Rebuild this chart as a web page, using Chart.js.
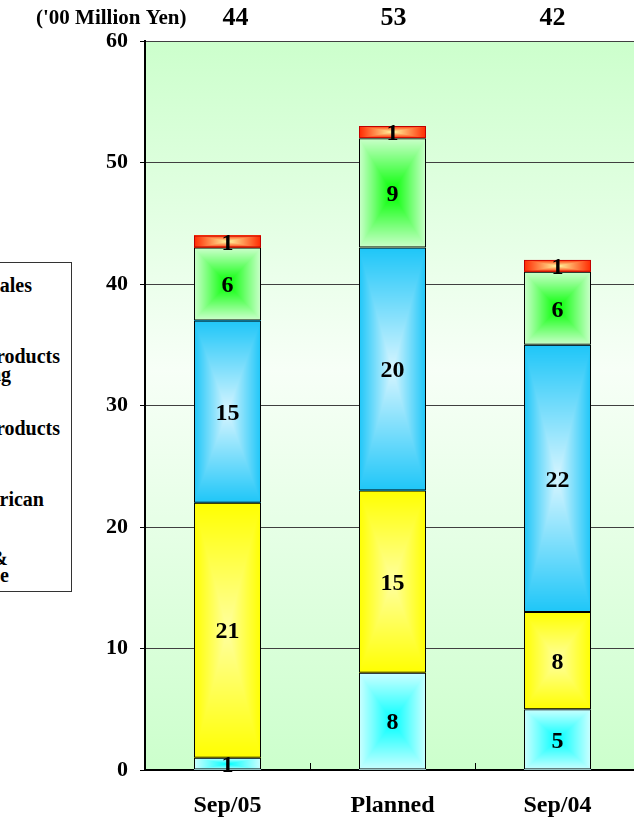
<!DOCTYPE html>
<html>
<head>
<meta charset="utf-8">
<script src="https://cdn.jsdelivr.net/npm/chart.js@4/dist/chart.umd.min.js"></script>
<style>
  html, body { margin: 0; padding: 0; background: #fff; overflow: hidden; width: 634px; height: 821px; }
  #wrap { position: relative; width: 634px; height: 821px; overflow: hidden; }
  #chart { position: absolute; left: 0; top: 0; }
  #legend {
    position: absolute; left: -188px; top: 262px; width: 260px; height: 330px;
    box-sizing: border-box; border: 1px solid #333; background: #fff;
    font: bold 20px "Liberation Serif", "Times New Roman", serif; color: #000;
  }
  #legend .ln { position: absolute; line-height: 20px; white-space: nowrap; }
  #legend .sw { position: absolute; left: 10px; width: 12px; height: 12px; border: 1px solid #000; }
</style>
</head>
<body>
<div id="wrap">
  <canvas id="chart" width="650" height="821"></canvas>
  <div id="legend">
    <span class="sw" style="top:16px;background:#ff3300"></span>
    <span class="ln" style="right:39px;top:12px">Other Sales</span>
    <span class="sw" style="top:95px;background:#00ff00"></span>
    <span class="ln" style="right:11px;top:83px">Frozen Products</span>
    <span class="ln" style="right:60px;top:101px">Processing</span>
    <span class="sw" style="top:159px;background:#33ccff"></span>
    <span class="ln" style="right:11px;top:155px">Fishery Products</span>
    <span class="sw" style="top:230px;background:#ffff00"></span>
    <span class="ln" style="right:27px;top:226px">North American</span>
    <span class="sw" style="top:297px;background:#00ffff"></span>
    <span class="ln" style="right:63px;top:285px">Trading &amp;</span>
    <span class="ln" style="right:62px;top:302px">Warehouse</span>
  </div>
</div>
<script>
// ---- data ----
const categories = ['Sep/05', 'Planned', 'Sep/04'];
const warehouseValues = [1, 8, 5];
const northAmericanValues = [21, 15, 8];
const fisheryValues = [15, 20, 22];
const frozenValues = [6, 9, 6];
const otherValues = [1, 1, 1];
const yTickValues = [0, 10, 20, 30, 40, 50, 60];
const unitLabel = "('00 Million Yen)";

// ---- styling ----
const FONT = '"Liberation Serif", "Times New Roman", serif';
const totalOffsets = [8, 1, -5];   // horizontal nudge of the total text boxes
const seriesDefs = [
  { name: 'Trading & Warehouse', values: warehouseValues,     edge: [204, 255, 255], center: [0, 255, 255],   border: '#000' },
  { name: 'North American',      values: northAmericanValues, edge: [255, 255, 0],   center: [255, 255, 160], border: '#000' },
  { name: 'Fishery Products',    values: fisheryValues,       edge: [30, 198, 248],  center: [215, 245, 255], border: '#000' },
  { name: 'Frozen Products Processing', values: frozenValues, edge: [204, 255, 204], center: [0, 255, 0],     border: '#000' },
  { name: 'Other Sales',         values: otherValues,         edge: [255, 40, 0],    center: [255, 250, 160], border: '#c00000' }
];

// Rectangular "from centre" gradient, rendered per pixel into a small canvas.
function boxGradient(w, h, edge, center) {
  const c = document.createElement('canvas');
  c.width = w; c.height = h;
  const g = c.getContext('2d');
  const img = g.createImageData(w, h);
  const hw = w / 2, hh = h / 2;
  for (let y = 0; y < h; y++) {
    for (let x = 0; x < w; x++) {
      const dx = Math.abs(x + 0.5 - hw) / hw;
      const dy = Math.abs(y + 0.5 - hh) / hh;
      const t = Math.min(1, Math.max(dx, dy));
      const i = (y * w + x) * 4;
      img.data[i]     = Math.round(center[0] + (edge[0] - center[0]) * t);
      img.data[i + 1] = Math.round(center[1] + (edge[1] - center[1]) * t);
      img.data[i + 2] = Math.round(center[2] + (edge[2] - center[2]) * t);
      img.data[i + 3] = 255;
    }
  }
  g.putImageData(img, 0, 0);
  return c;
}

const plotBackground = {
  id: 'plotBackground',
  beforeDraw(chart) {
    const { ctx, chartArea: a } = chart;
    const grad = ctx.createLinearGradient(0, a.top, 0, a.bottom);
    grad.addColorStop(0, '#ccffcc');
    grad.addColorStop(0.45, '#f7fff7');
    grad.addColorStop(1, '#ccffcc');
    ctx.save();
    ctx.fillStyle = grad;
    ctx.fillRect(a.left, a.top, a.right - a.left, a.bottom - a.top);
    ctx.restore();
  }
};

const segmentFill = {
  id: 'segmentFill',
  beforeDatasetsDraw(chart) {
    const ctx = chart.ctx;
    chart.data.datasets.forEach((ds, di) => {
      const meta = chart.getDatasetMeta(di);
      const def = seriesDefs[di];
      meta.data.forEach(el => {
        const p = el.getProps(['x', 'y', 'base', 'width'], true);
        const l = Math.round(p.x - p.width / 2), r = Math.round(p.x + p.width / 2);
        const t = Math.round(Math.min(p.y, p.base)), b = Math.round(Math.max(p.y, p.base));
        if (r - l < 1 || b - t < 1) return;
        ctx.drawImage(boxGradient(r - l, b - t, def.edge, def.center), l, t);
      });
    });
  }
};

const annotations = {
  id: 'annotations',
  afterDraw(chart) {
    const { ctx, chartArea: a } = chart;
    const xs = chart.scales.x;
    ctx.save();
    // inward tick marks between categories
    ctx.strokeStyle = '#000';
    ctx.lineWidth = 1;
    const step = (a.right - a.left) / categories.length;
    for (let i = 1; i < categories.length; i++) {
      const x = Math.round(a.left + step * i) + 0.5;
      ctx.beginPath();
      ctx.moveTo(x, a.bottom);
      ctx.lineTo(x, a.bottom - 7);
      ctx.stroke();
    }
    // segment values
    ctx.fillStyle = '#000';
    ctx.textAlign = 'center';
    ctx.textBaseline = 'middle';
    ctx.font = 'bold 24px ' + FONT;
    chart.data.datasets.forEach((ds, di) => {
      chart.getDatasetMeta(di).data.forEach((el, i) => {
        const p = el.getProps(['x', 'y', 'base'], true);
        ctx.fillText(String(ds.data[i]), p.x, (p.y + p.base) / 2 + 2);
      });
    });
    // stack totals above the plot
    ctx.font = 'bold 26px ' + FONT;
    categories.forEach((c, i) => {
      const total = chart.data.datasets.reduce((s, ds) => s + ds.data[i], 0);
      ctx.fillText(String(total), xs.getPixelForValue(i) + totalOffsets[i], 18);
    });
    ctx.font = 'bold 21px ' + FONT;
    ctx.textAlign = 'left';
    ctx.fillText(unitLabel, 36, 19);
    ctx.restore();
  }
};

new Chart(document.getElementById('chart'), {
  type: 'bar',
  data: {
    labels: categories,
    datasets: seriesDefs.map(s => ({
      label: s.name,
      data: s.values,
      backgroundColor: 'rgba(0,0,0,0)',
      borderColor: s.border,
      borderWidth: 1,
      borderSkipped: false,
      categoryPercentage: 1,
      barPercentage: 0.406
    }))
  },
  options: {
    responsive: false,
    animation: false,
    devicePixelRatio: 1,
    layout: { padding: { top: 41, right: 10, left: 0, bottom: 0 } },
    plugins: { legend: { display: false }, tooltip: { enabled: false } },
    scales: {
      x: {
        stacked: true,
        grid: { display: true, drawOnChartArea: false, drawTicks: false },
        border: { display: true, color: '#000', width: 2 },
        ticks: { color: '#000', font: { family: FONT, size: 24, weight: 'bold' }, padding: 21 },
        afterFit(s) { s.height = 51; }
      },
      y: {
        stacked: true,
        min: 0,
        max: 60,
        afterBuildTicks(s) { s.ticks = yTickValues.map(v => ({ value: v })); },
        grid: { color: '#404040', lineWidth: 1, drawTicks: true, tickLength: 5, tickColor: '#000' },
        border: { display: true, color: '#000', width: 2 },
        ticks: { color: '#000', font: { family: FONT, size: 22, weight: 'bold' }, padding: 12 },
        afterFit(s) { s.width = 145; }
      }
    }
  },
  plugins: [plotBackground, segmentFill, annotations]
});
</script>
</body>
</html>
